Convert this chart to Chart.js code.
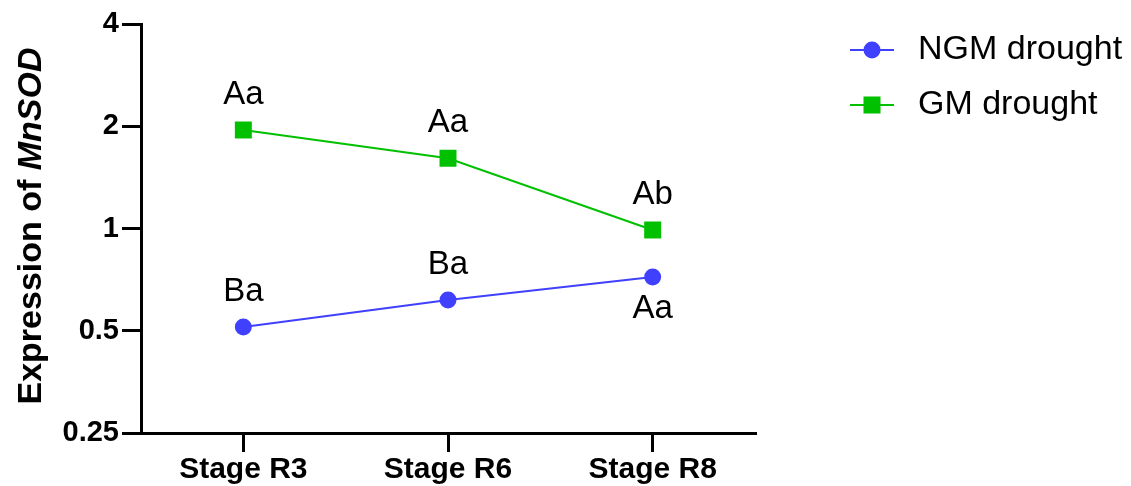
<!DOCTYPE html>
<html>
<head>
<meta charset="utf-8">
<script src="https://cdn.jsdelivr.net/npm/chart.js@4/dist/chart.umd.min.js"></script>
<style>
html,body{margin:0;padding:0;background:#fff;}
#wrap{width:1131px;height:486px;}
</style>
</head>
<body>
<div id="wrap"><canvas id="c" width="1131" height="486"></canvas></div>
<script>
const categories = ['Stage R3', 'Stage R6', 'Stage R8'];
const ngmValues = [0.513, 0.616, 0.72];
const gmValues = [1.95, 1.61, 0.99];
const ngmLetters = ['Ba', 'Ba', 'Aa'];
const gmLetters = ['Aa', 'Aa', 'Ab'];
const ngmLetterBelow = [false, false, true];
const gmLetterBelow = [false, false, false];
const yTickValues = [0.25, 0.5, 1, 2, 4];
const seriesNames = ['NGM drought', 'GM drought'];

const FONT = '"Liberation Sans", Arial, Helvetica, sans-serif';
const BLUE = '#4040ff';
const GREEN = '#00c000';

const letterPlugin = {
  id: 'letters',
  afterDatasetsDraw(chart) {
    const ctx = chart.ctx;
    ctx.save();
    ctx.font = '33px ' + FONT;
    ctx.fillStyle = '#000';
    ctx.textAlign = 'center';
    ctx.textBaseline = 'middle';
    const sets = [[ngmLetters, ngmLetterBelow], [gmLetters, gmLetterBelow]];
    sets.forEach((s, i) => {
      const meta = chart.getDatasetMeta(i);
      meta.data.forEach((pt, j) => {
        const dy = s[1][j] ? 32 : -35;
        ctx.fillText(s[0][j], pt.x, pt.y + dy);
      });
    });
    ctx.restore();
  }
};

const titlePlugin = {
  id: 'ytitle',
  afterDraw(chart) {
    const ctx = chart.ctx;
    ctx.save();
    const a = 'Expression of ';
    const b = 'MnSOD';
    const fa = 'bold 34px ' + FONT;
    const fb = 'italic bold 34px ' + FONT;
    ctx.font = fa; const wa = ctx.measureText(a).width;
    ctx.font = fb; const wb = ctx.measureText(b).width;
    const total = wa + wb;
    ctx.translate(32, 226);
    ctx.rotate(-Math.PI / 2);
    ctx.fillStyle = '#000';
    ctx.textBaseline = 'middle';
    ctx.textAlign = 'left';
    ctx.font = fa;
    ctx.fillText(a, -total / 2, 0);
    ctx.font = fb;
    ctx.fillText(b, -total / 2 + wa, 0);
    ctx.restore();
  }
};

const legendPlugin = {
  id: 'customLegend',
  afterDraw(chart) {
    const ctx = chart.ctx;
    ctx.save();
    const items = [
      {name: seriesNames[0], color: BLUE, shape: 'circle', y: 50},
      {name: seriesNames[1], color: GREEN, shape: 'rect', y: 105}
    ];
    items.forEach(it => {
      ctx.strokeStyle = it.color;
      ctx.lineWidth = 2;
      ctx.beginPath();
      ctx.moveTo(850, it.y);
      ctx.lineTo(894, it.y);
      ctx.stroke();
      ctx.fillStyle = it.color;
      if (it.shape === 'circle') {
        ctx.beginPath();
        ctx.arc(872, it.y, 8.5, 0, Math.PI * 2);
        ctx.fill();
      } else {
        ctx.fillRect(872 - 8.5, it.y - 8.5, 17, 17);
      }
      ctx.fillStyle = '#000';
      ctx.font = '34px ' + FONT;
      ctx.textAlign = 'left';
      ctx.textBaseline = 'middle';
      ctx.fillText(it.name, 918, it.y);
    });
    ctx.restore();
  }
};

new Chart(document.getElementById('c'), {
  type: 'line',
  data: {
    labels: categories,
    datasets: [
      {
        label: seriesNames[0],
        data: ngmValues,
        borderColor: BLUE,
        backgroundColor: BLUE,
        borderWidth: 2,
        pointStyle: 'circle',
        pointRadius: 8.5,
        pointBorderWidth: 0,
        pointHoverRadius: 8.5,
        tension: 0,
        clip: false
      },
      {
        label: seriesNames[1],
        data: gmValues,
        borderColor: GREEN,
        backgroundColor: GREEN,
        borderWidth: 2,
        pointStyle: 'rect',
        pointRadius: 12,
        pointBorderWidth: 0,
        pointHoverRadius: 12,
        tension: 0,
        clip: false
      }
    ]
  },
  options: {
    responsive: false,
    animation: false,
    layout: {padding: {top: 24, right: 376, bottom: 0, left: 0}},
    plugins: {legend: {display: false}, tooltip: {enabled: false}},
    scales: {
      x: {
        offset: true,
        grid: {display: true, drawOnChartArea: false, drawTicks: true, tickLength: 19, lineWidth: 3, color: '#000', offset: false},
        border: {display: true, color: '#000', width: 3},
        ticks: {color: '#000', font: {family: FONT, size: 30, weight: 'bold'}, padding: 0, maxRotation: 0},
        afterFit(scale) { scale.height = 53; }
      },
      y: {
        type: 'logarithmic',
        min: 0.25,
        max: 4,
        afterBuildTicks(scale) { scale.ticks = yTickValues.map(v => ({value: v})); },
        grid: {display: true, drawOnChartArea: false, drawTicks: true, tickLength: 19, lineWidth: 3, color: '#000'},
        border: {display: true, color: '#000', width: 3},
        ticks: {color: '#000', font: {family: FONT, size: 29, weight: 'bold'}, padding: 3,
          callback: (v) => String(v)},
        afterFit(scale) { scale.width = 141; }
      }
    }
  },
  plugins: [letterPlugin, titlePlugin, legendPlugin]
});
</script>
</body>
</html>
